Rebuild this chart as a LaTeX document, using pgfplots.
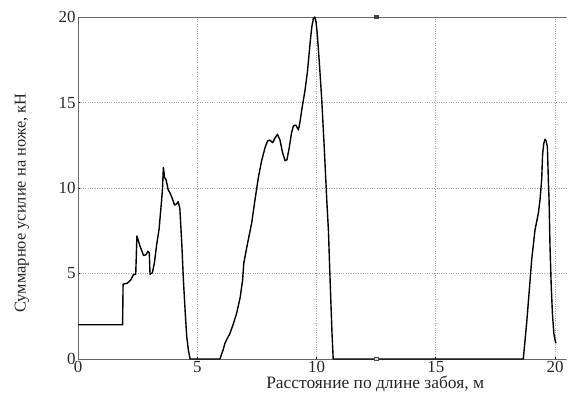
\documentclass[border=0pt]{standalone}
\usepackage{fontspec}
\setmainfont{Liberation Serif}
\usepackage{pgfplots}
\pgfplotsset{compat=1.18}
\begin{document}
\begin{tikzpicture}
\begin{axis}[
  name=ax,
  scale only axis,
  width=488bp, height=342bp,
  xmin=0, xmax=20.46, ymin=0, ymax=20,
  axis x line=box, axis y line=left,
  axis line style={-, gray!80!black, line width=0.7pt},
  xtick={0,5,10,15,20}, ytick={0,5,10,15,20},
  xtick pos=bottom, ytick pos=left,
  tick align=inside,
  major tick length=2.5bp,
  every tick/.style={black, line width=1pt},
  grid=major,
  major grid style={gray!70, dotted, line width=0.6pt},
  /pgf/number format/assume math mode=true,
  tick label style={font=\fontsize{17}{19}\selectfont, text=black!85},
  xticklabel style={yshift=1bp},
  yticklabel style={xshift=1bp},
  xlabel={Расстояние по длине забоя, м},
  ylabel={Суммарное усилие на ноже, кН},
  every axis x label/.style={at={(axis description cs:0.609,-0.073)}, anchor=center, font=\fontsize{17.5}{19}\selectfont, text=black!85},
  every axis y label/.style={at={(axis description cs:-0.115,0.456)}, rotate=90, anchor=center, font=\fontsize{16.5}{18}\selectfont, text=black!85},
  clip=false,
]
\addplot[black, line width=1.4pt, line join=round] coordinates {
(0,2.0) (1.87,2.0) (1.89,4.38) (2.05,4.42) (2.2,4.6) (2.33,4.95) (2.42,4.95)
(2.47,7.19) (2.6,6.6) (2.75,6.05) (2.85,6.1) (2.93,6.3) (2.99,6.2) (3.02,4.95)
(3.12,5.05) (3.2,5.6) (3.3,6.7) (3.4,7.6) (3.5,9.2) (3.54,9.9) (3.58,11.2)
(3.63,10.6) (3.69,10.5) (3.78,9.9) (3.86,9.7) (3.95,9.4) (4.05,9.0) (4.12,9.05)
(4.2,9.2) (4.27,8.8) (4.35,6.8) (4.42,4.6) (4.5,2.6) (4.56,1.3) (4.63,0.5) (4.70,0)
(5.95,0) (6.1,0.6) (6.16,0.92) (6.37,1.5) (6.5,2.0) (6.65,2.67) (6.8,3.6) (6.9,4.6)
(6.95,5.6) (7.1,6.7) (7.28,7.94) (7.42,9.3) (7.56,10.6) (7.7,11.6) (7.85,12.4)
(7.95,12.75) (8.05,12.8) (8.16,12.65) (8.25,12.9) (8.36,13.14) (8.47,12.8)
(8.57,12.1) (8.68,11.6) (8.76,11.65) (8.85,12.3) (8.95,13.2) (9.03,13.63)
(9.13,13.68) (9.24,13.4) (9.3,13.8) (9.38,14.56) (9.52,15.73) (9.62,16.8)
(9.73,18.46) (9.8,19.4) (9.87,19.92) (9.93,20.0) (9.98,19.7) (10.03,19.05)
(10.12,17.3) (10.22,15.15) (10.33,12.2) (10.43,9.3) (10.5,7.5) (10.57,4.6)
(10.65,1.5) (10.7,0) (18.67,0) (18.81,2.09) (18.92,4.0) (19.02,5.79) (19.16,7.54)
(19.3,8.52) (19.37,9.3) (19.44,10.47) (19.48,12.0) (19.53,12.6) (19.58,12.85)
(19.63,12.75) (19.68,12.4) (19.72,10.47) (19.75,9.3) (19.79,6.57) (19.84,4.3)
(19.89,2.67) (19.95,1.5) (20.0,1.11) (20.04,0.92)
};
\addplot[only marks, mark=square*, mark size=1.6pt, black!75] coordinates {(12.5,20)};
\addplot[only marks, mark=square*, mark size=1.6pt, draw=black!70, fill=gray!30] coordinates {(12.5,0)};
\end{axis}
\pgfresetboundingbox
\path ([shift={(-78bp,-39bp)}]ax.south west) rectangle ++(572bp,398bp);
\end{tikzpicture}
\end{document}
